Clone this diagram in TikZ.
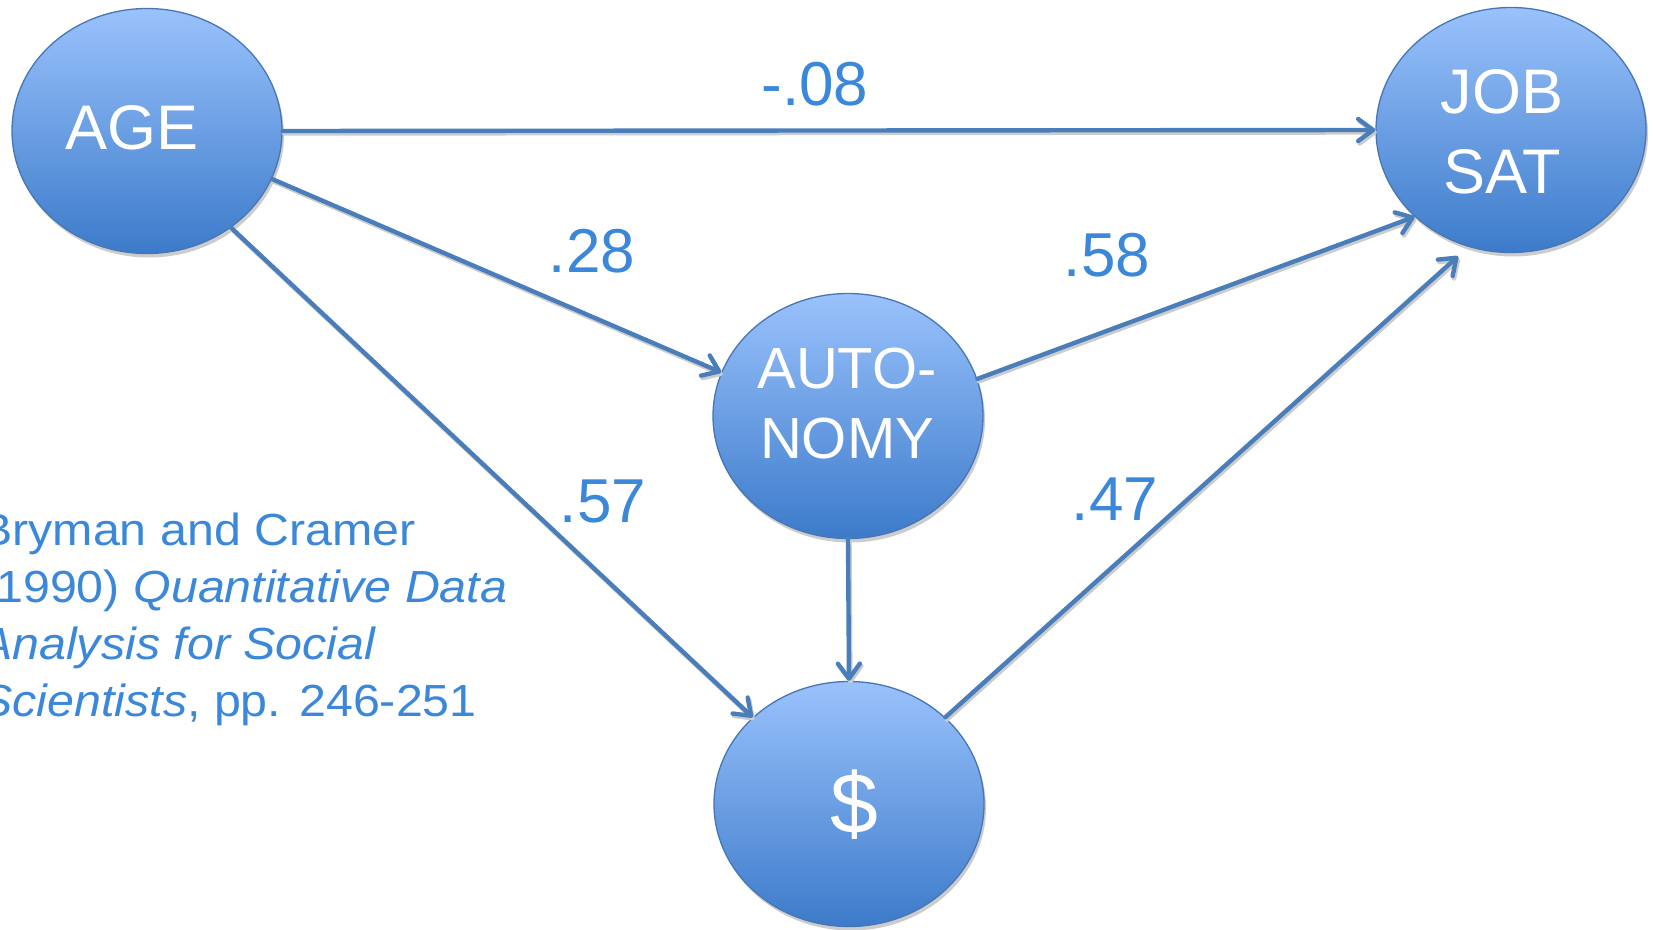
\documentclass[tikz,border=0pt]{standalone}
\usepackage{fontspec}
\setmainfont{Liberation Sans}
\newfontfamily\sourcefont[FakeStretch=1.075]{Liberation Sans}
\usetikzlibrary{shapes.geometric,arrows.meta,shadows}

\definecolor{linkblue}{HTML}{4A7EBB}
\definecolor{textblue}{HTML}{3B87D9}
\definecolor{elltop}{HTML}{9AC2FC}
\definecolor{ellbot}{HTML}{3C7BCA}
\definecolor{ellrim}{HTML}{4676B4}

\begin{document}
\begin{tikzpicture}[x=1pt,y=-1pt,
  var/.style={ellipse, draw=ellrim, line width=1.3pt, inner sep=0pt,
    minimum width=270pt, minimum height=245pt,
    top color=elltop, bottom color=ellbot,
    drop shadow={shadow xshift=2pt, shadow yshift=-4pt, fill=black!20, opacity=1}},
  vartext/.style={text=white, inner sep=0pt, align=center},
  coef/.style={text=textblue, inner sep=0pt, font=\fontsize{62}{72}\selectfont},
  link/.style={draw=linkblue, line width=4.4pt, line cap=round,
    -{Straight Barb[round, length=15pt, width=22pt]}},
  linkshade/.style={link, draw=black!20,
    transform canvas={xshift=1.5pt, yshift=-2.5pt}},
]
\useasboundingbox (0,0) rectangle (1653,929);

% variables
\node[var] (age)    at (147,131) {};
\node[var] (auto)   at (848,416) {};
\node[var] (dollar) at (849,804) {};
\node[var] (job)    at (1511,130) {};

\node[vartext, font=\fontsize{63}{80}\selectfont] (agetext) at (132,128) {AGE};
\node[vartext, font=\fontsize{63}{80}\selectfont] (jobtext) at (1502,132) {JOB\\SAT};
\node[vartext, font=\fontsize{58}{70}\selectfont] (autotext) at (847,404) {AUTO-\\NOMY};
\node[vartext, font=\fontsize{86}{90}\selectfont] (dollartext) at (854,805) {\$};

% paths, shadow first and then the line itself
\foreach \s in {linkshade,link} {
  \draw[\s] (age.east) -- (job.west);
  \draw[\s] (age.-21) -- (auto.161);
  \draw[\s] (age.-49) -- (dollar.138);
  \draw[\s] (auto.16) -- (job.-138);
  \draw[\s] (auto.south) -- (dollar.north);
  \draw[\s, shorten >=14pt] (dollar.42) -- (job.-110);
}

% path coefficients
\node[coef] (c08) at (815,84)  {-.08};
\node[coef] (c28) at (592,251) {.28};
\node[coef] (c58) at (1107,255) {.58};
\node[coef] (c57) at (603,501) {.57};
\node[coef] (c47) at (1115,499) {.47};

% source
\node[text=textblue, inner sep=0pt, align=left, anchor=north west,
  font=\sourcefont\fontsize{45}{57}\selectfont] (source) at (-20,513)
  {Bryman and Cramer\\(1990) \textit{Quantitative Data}\\\textit{Analysis for Social}\\\textit{Scientists}, pp. 246-251};
\end{tikzpicture}
\end{document}
